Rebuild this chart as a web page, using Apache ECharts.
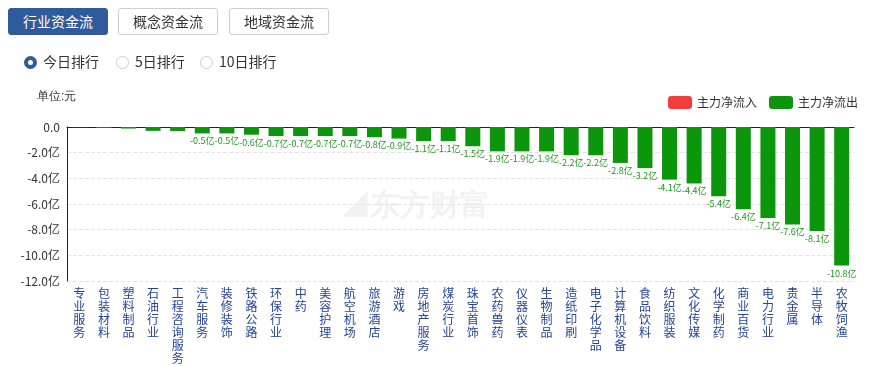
<!DOCTYPE html>
<html><head><meta charset="utf-8">
<script src="https://cdn.jsdelivr.net/npm/echarts@6/dist/echarts.min.js"></script>
<style>
html,body{margin:0;padding:0;background:#fff;font-family:"Microsoft YaHei","Noto Sans CJK SC",sans-serif;}
#wrap{position:relative;width:869px;height:366px;overflow:hidden;}
#chart{position:absolute;left:0;top:0;width:869px;height:366px;}
.btn{position:absolute;top:8px;height:27px;width:100px;box-sizing:border-box;border:1px solid #c9cdd4;border-radius:3px;font-size:14px;line-height:25px;text-align:center;color:#333;background:#fff;}
.btn.on{background:#2f5a9b;border-color:#2f5a9b;color:#fff;}
.radio{position:absolute;top:53px;font-size:14px;color:#333;line-height:16px;}
.radio i{display:inline-block;width:13px;height:13px;border-radius:50%;border:1px solid #c9cdd4;box-sizing:border-box;vertical-align:-2px;margin-right:6px;}
.radio.on i{border:4px solid #2f5a9b;}
</style></head>
<body><div id="wrap">
<div id="chart"></div>
<div class="btn on" style="left:8px">行业资金流</div>
<div class="btn" style="left:118px">概念资金流</div>
<div class="btn" style="left:229px">地域资金流</div>
<div class="radio on" style="left:24px"><i></i>今日排行</div>
<div class="radio" style="left:116px"><i></i>5日排行</div>
<div class="radio" style="left:200px"><i></i>10日排行</div>
</div>
<script>
const categories = ["专业服务","包装材料","塑料制品","石油行业","工程咨询服务","汽车服务","装修装饰","铁路公路","环保行业","中药","美容护理","航空机场","旅游酒店","游戏","房地产服务","煤炭行业","珠宝首饰","农药兽药","仪器仪表","生物制品","造纸印刷","电子化学品","计算机设备","食品饮料","纺织服装","文化传媒","化学制药","商业百货","电力行业","贵金属","半导体","农牧饲渔"];
const netFlow = [-0.02,-0.07,-0.12,-0.3,-0.32,-0.5,-0.5,-0.6,-0.7,-0.7,-0.7,-0.7,-0.8,-0.9,-1.1,-1.1,-1.5,-1.9,-1.9,-1.9,-2.2,-2.2,-2.8,-3.2,-4.1,-4.4,-5.4,-6.4,-7.1,-7.6,-8.1,-10.8];
const yTicks = [0,-2,-4,-6,-8,-10,-12];
const legendNames = ["主力净流入","主力净流出"];

const GREEN = '#0b960b', RED = '#f23d3d';
const chart = echarts.init(document.getElementById('chart'));
chart.setOption({
  animation:false,
  textStyle:{fontFamily:'"Microsoft YaHei","Noto Sans CJK SC",sans-serif'},
  graphic:[
    {type:'text',left:37,top:91,style:{text:'单位:元',fontSize:12,fill:'#333'}},
    {type:'text',left:340,top:192,z:0,style:{text:'◢东方财富',fontSize:30,fontWeight:'bold',fill:'#f2f2f2'}}
  ],
  legend:{right:6,top:91,itemWidth:24,itemHeight:13,itemGap:12,
    textStyle:{fontSize:12,color:'#333'},
    data:[{name:legendNames[0],itemStyle:{color:RED}},{name:legendNames[1],itemStyle:{color:GREEN}}]},
  grid:{left:67,right:15,top:127,bottom:85},
  xAxis:[{type:'category',data:categories,position:'bottom',
    axisLine:{show:false},axisTick:{show:false},
    axisLabel:{interval:0,margin:6,fontSize:12,color:'#24449a',lineHeight:13,
      formatter:v=>v.split('').join('\n')}},
    {type:'category',data:categories,position:'top',axisLine:{show:true,lineStyle:{color:'#222',width:1}},
     axisTick:{show:false},axisLabel:{show:false}}],
  yAxis:{type:'value',min:-12,max:0,interval:2,
    axisLine:{show:true,lineStyle:{color:'#222'}},axisTick:{show:false},
    splitLine:{show:true,lineStyle:{color:'#e3e3e3',type:'dashed'}},
    axisLabel:{fontSize:12,color:'#333',margin:7,
      formatter:v=>v===0?'0.0':v.toFixed(1)+'亿'}},
  series:[
    {name:legendNames[0],type:'bar',data:[],itemStyle:{color:RED}},
    {name:legendNames[1],type:'bar',data:netFlow,barWidth:15,barGap:'-100%',itemStyle:{color:GREEN},
     label:{show:true,position:'bottom',distance:3,fontSize:9,color:'#1a9a1a',
       formatter:p=>Math.abs(p.value)>=0.45?p.value.toFixed(1)+'亿':''}}
  ]
});
</script></body></html>
